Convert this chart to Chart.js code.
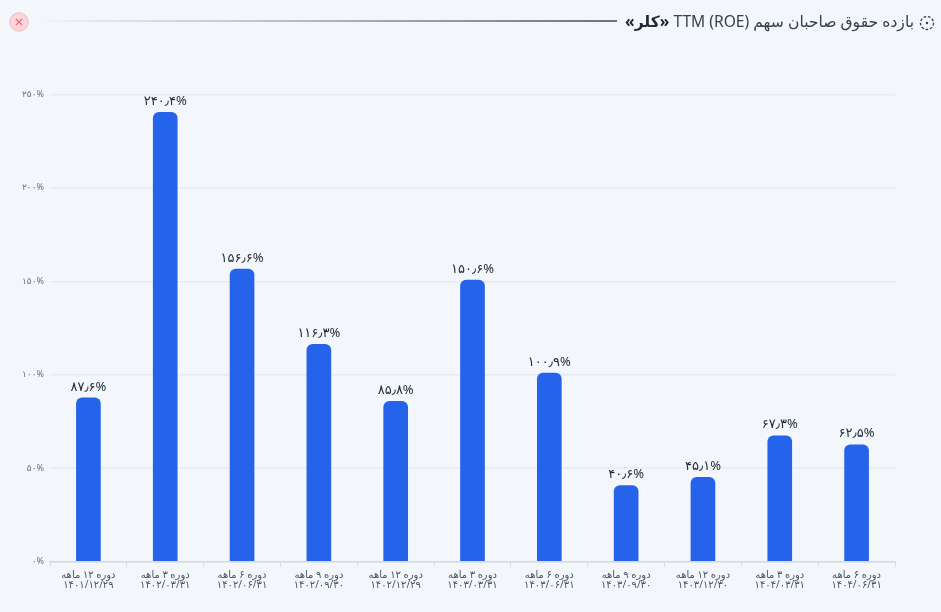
<!DOCTYPE html>
<html lang="fa">
<head>
<meta charset="utf-8">
<title>ROE</title>
<script src="https://cdn.jsdelivr.net/npm/chart.js@4"></script>
<style>
  html, body { margin: 0; padding: 0; background: #f3f6fa; overflow: hidden; }
  #wrap { position: relative; width: 941px; height: 612px; font-family: "Noto Sans", "DejaVu Sans", sans-serif; }
  #myChart { position: absolute; left: 0; top: 0; }
  #close { position: absolute; left: 9px; top: 12px; width: 20px; height: 20px; }
  #rule { position: absolute; left: 35px; top: 20px; width: 582px; height: 2px; background: linear-gradient(to right, rgba(107,114,128,0), #6b7280); }
  #title { position: absolute; right: 27px; top: 11px; font-size: 15.6px; line-height: 20px; color: #374151; white-space: nowrap; direction: rtl; }
  #title b { color: #1f2937; }
  #icon { position: absolute; left: 919px; top: 15px; width: 16px; height: 16px; }
</style>
</head>
<body>
<div id="wrap">
  <canvas id="myChart" width="941" height="612"></canvas>
  <svg id="close" viewBox="0 0 20 20">
    <circle cx="10" cy="10" r="9.2" fill="#fbd5da" stroke="#f5b5bf" stroke-width="1"/>
    <path d="M6.8 6.8 L13.2 13.2 M13.2 6.8 L6.8 13.2" stroke="#ee5f76" stroke-width="1.1" fill="none"/>
  </svg>
  <div id="rule"></div>
  <div id="title">بازده حقوق صاحبان سهم <span dir="ltr">TTM (ROE)</span> <b>«کلر»</b></div>
  <svg id="icon" viewBox="0 0 16 16">
    <circle cx="8" cy="8" r="6.5" fill="none" stroke="#374151" stroke-width="1.3" stroke-dasharray="2.6 1.8"/>
    <circle cx="8" cy="8" r="1.2" fill="#374151"/>
  </svg>
</div>
<script>
"use strict";
const periods = ['دوره ۱۲ ماهه', 'دوره ۳ ماهه', 'دوره ۶ ماهه', 'دوره ۹ ماهه', 'دوره ۱۲ ماهه', 'دوره ۳ ماهه', 'دوره ۶ ماهه', 'دوره ۹ ماهه', 'دوره ۱۲ ماهه', 'دوره ۳ ماهه', 'دوره ۶ ماهه'];
const dates = ['۱۴۰۱/۱۲/۲۹', '۱۴۰۲/۰۳/۳۱', '۱۴۰۲/۰۶/۳۱', '۱۴۰۲/۰۹/۳۰', '۱۴۰۲/۱۲/۲۹', '۱۴۰۳/۰۳/۳۱', '۱۴۰۳/۰۶/۳۱', '۱۴۰۳/۰۹/۳۰', '۱۴۰۳/۱۲/۳۰', '۱۴۰۴/۰۳/۳۱', '۱۴۰۴/۰۶/۳۱'];
const roeValues = [87.6, 240.4, 156.6, 116.3, 85.8, 150.6, 100.9, 40.6, 45.1, 67.3, 62.5];
const valueLabels = ['۸۷٫۶%', '۲۴۰٫۴%', '۱۵۶٫۶%', '۱۱۶٫۳%', '۸۵٫۸%', '۱۵۰٫۶%', '۱۰۰٫۹%', '۴۰٫۶%', '۴۵٫۱%', '۶۷٫۳%', '۶۲٫۵%'];
const yTickLabels = { 0: '۰%', 50: '۵۰%', 100: '۱۰۰%', 150: '۱۵۰%', 200: '۲۰۰%', 250: '۲۵۰%' };

const fontFamily = '"Noto Sans", "DejaVu Sans", sans-serif';

// value labels above the bars
const barLabels = {
  id: 'barLabels',
  afterDatasetsDraw(chart) {
    const ctx = chart.ctx;
    ctx.save();
    ctx.font = '13px ' + fontFamily;
    ctx.fillStyle = '#1f2937';
    ctx.textAlign = 'center';
    ctx.textBaseline = 'bottom';
    chart.getDatasetMeta(0).data.forEach(function (bar, i) {
      ctx.fillText(valueLabels[i], bar.x, bar.y - 4.5);
    });
    ctx.restore();
  }
};

new Chart(document.getElementById('myChart').getContext('2d'), {
  type: 'bar',
  data: {
    labels: periods.map(function (p, i) { return [p, dates[i]]; }),
    datasets: [{
      label: 'ROE',
      data: roeValues,
      backgroundColor: '#2563eb',
      borderRadius: { topLeft: 6, topRight: 6 },
      borderSkipped: 'bottom',
      barThickness: 24
    }]
  },
  options: {
    responsive: false,
    animation: false,
    layout: { padding: { top: 94.5, right: 46, bottom: 0, left: 0 } },
    plugins: { legend: { display: false }, tooltip: { enabled: false } },
    scales: {
      x: {
        afterFit(scale) { scale.height = 50.5; },
        grid: { drawOnChartArea: false, drawTicks: true, tickLength: 5, color: '#d5d9e0' },
        border: { color: '#d5d9e0', width: 1.5 },
        ticks: { color: '#4b5563', font: { size: 10, family: fontFamily, lineHeight: 0.95 }, maxRotation: 0, autoSkip: false, padding: 4 }
      },
      y: {
        min: 0,
        max: 250,
        afterFit(scale) { scale.width = 50; },
        grid: { color: '#e8ebf1', lineWidth: 1.5, drawTicks: false },
        border: { display: false },
        ticks: {
          stepSize: 50,
          padding: 6,
          color: '#6b7280',
          font: { size: 9, family: fontFamily },
          callback(v) { return yTickLabels[v]; }
        }
      }
    }
  },
  plugins: [barLabels]
});
</script>
</body>
</html>
